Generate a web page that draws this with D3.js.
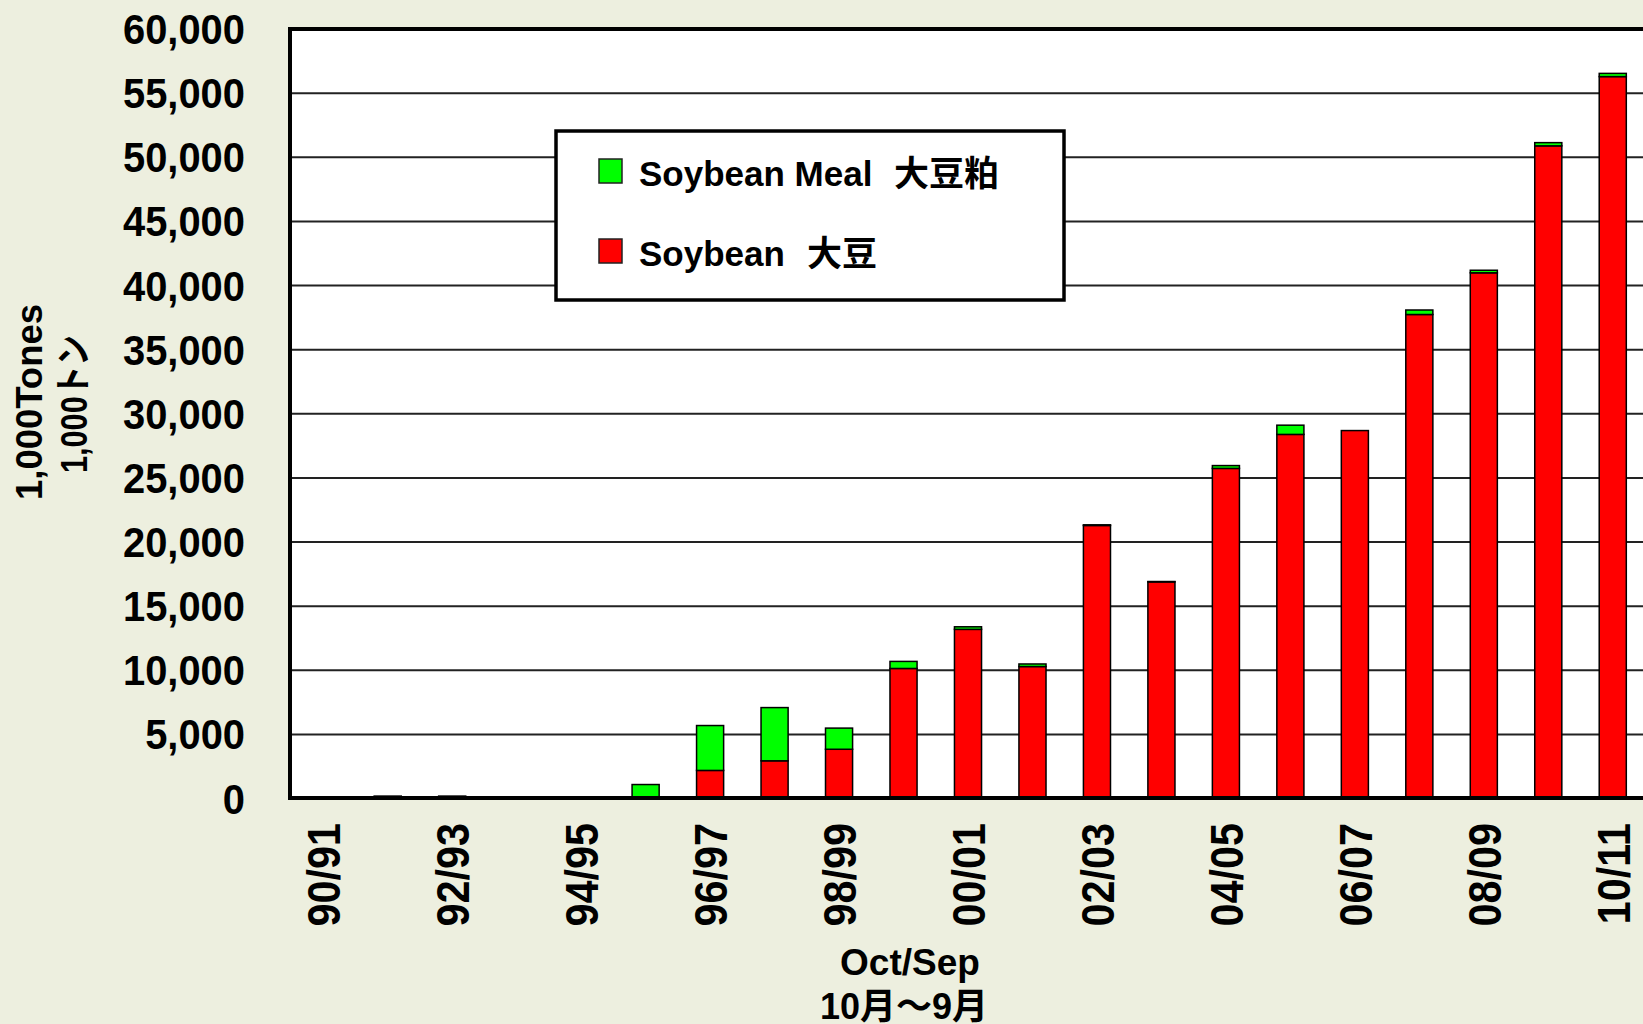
<!DOCTYPE html>
<html>
<head>
<meta charset="utf-8">
<script src="https://cdn.jsdelivr.net/npm/d3@7"></script>
<style>
  html, body { margin: 0; padding: 0; background: #edefdf; }
  svg { display: block; }
  text { font-family: "Liberation Sans", Arial, "Noto Sans CJK JP", sans-serif; font-weight: bold; fill: #000; }
</style>
</head>
<body>
<svg id="chart" width="1643" height="1024"></svg>
<script>
// crop years, Oct/Sep
var seasons = ["90/91","91/92","92/93","93/94","94/95","95/96","96/97","97/98","98/99","99/00",
               "00/01","01/02","02/03","03/04","04/05","05/06","06/07","07/08","08/09","09/10","10/11"];
// 1,000 tonnes
var soybean = [0, 150, 150, 0, 0, 0, 2150, 2900, 3800, 10100,
               13150, 10250, 21250, 16850, 25700, 28350, 28650, 37700, 40950, 50850, 56250];
var soybeanMeal = [0, 0, 0, 0, 0, 1050, 3500, 4150, 1650, 550,
                   200, 200, 50, 30, 220, 720, 0, 350, 200, 250, 250];
var yTicks = d3.range(0, 60001, 5000);
var xLabels = seasons.filter(function(d, i) { return i % 2 == 0; });

var legendItems = [
  {key: "meal", en: "Soybean Meal", ja: "大豆粕", color: "#00ff00"},
  {key: "soy",  en: "Soybean",      ja: "大豆",   color: "#ff0000"}
];

var svg = d3.select("#chart");
var plotL = 290, plotT = 29, plotB = 798, plotR = 1650;

var x = d3.scaleBand()
    .domain(seasons)
    .range([291, 1645])
    .paddingInner(0.58)
    .paddingOuter(0.29);

var y = d3.scaleLinear()
    .domain([0, 60000])
    .range([plotB, 28.5]);

var rows = seasons.map(function(s, i) {
  return {season: s, soy: soybean[i], meal: soybeanMeal[i]};
});
var stacked = d3.stack().keys(["soy", "meal"])(rows);
var colors = {soy: "#ff0000", meal: "#00ff00"};

// plot area
svg.append("rect")
  .attr("x", plotL).attr("y", plotT)
  .attr("width", plotR - plotL).attr("height", plotB - plotT)
  .attr("fill", "#fff");

// y axis + grid
var yAxis = svg.append("g")
  .attr("transform", "translate(" + plotL + ",0)")
  .call(d3.axisLeft(y).tickValues(yTicks).tickSize(-(plotR - plotL)).tickPadding(45)
        .tickFormat(d3.format(",")));
yAxis.select(".domain").remove();
yAxis.selectAll(".tick line").attr("stroke", "#222").attr("stroke-width", 2);
yAxis.selectAll(".tick text")
  .style("font-size", "42px")
  .attr("x", 0).attr("dy", "0.36em")
  .attr("transform", "translate(-45,0) scale(0.95,1)");

// bars
svg.append("g").selectAll("g")
  .data(stacked)
  .join("g")
  .attr("fill", function(d) { return colors[d.key]; })
  .selectAll("rect")
  .data(function(d) { return d; })
  .join("rect")
  .filter(function(d) { return d[1] - d[0] > 0; })
  .attr("x", function(d) { return x(d.data.season); })
  .attr("width", x.bandwidth())
  .attr("y", function(d) { return y(d[1]); })
  .attr("height", function(d) { return y(d[0]) - y(d[1]); })
  .attr("stroke", "#000")
  .attr("stroke-width", 1.5);

// frame (top + left)
svg.append("path")
  .attr("d", "M" + plotL + "," + plotB + "V" + plotT + "H" + plotR)
  .attr("fill", "none").attr("stroke", "#000").attr("stroke-width", 4);

// x axis
var xAxis = svg.append("g")
  .attr("transform", "translate(0," + plotB + ")")
  .call(d3.axisBottom(x).tickValues(xLabels).tickSize(0).tickPadding(0));
xAxis.select(".domain")
  .attr("d", "M" + (plotL - 2) + ",0H" + plotR)
  .attr("stroke", "#000").attr("stroke-width", 4);
xAxis.selectAll(".tick text")
  .style("font-size", "47px")
  .attr("text-anchor", "end")
  .attr("x", 0).attr("y", 0).attr("dy", "0.36em")
  .attr("transform", "translate(0,25) rotate(-90) scale(0.88,1)");

// axis titles
svg.append("text")
  .attr("transform", "translate(42,402) rotate(-90)")
  .attr("text-anchor", "middle")
  .attr("textLength", 196).attr("lengthAdjust", "spacingAndGlyphs")
  .style("font-size", "37px")
  .text("1,000Tones");
svg.append("text")
  .attr("transform", "translate(87,404) rotate(-90)")
  .attr("text-anchor", "middle")
  .attr("textLength", 138).attr("lengthAdjust", "spacingAndGlyphs")
  .style("font-size", "37px")
  .text("1,000トン");

svg.append("text")
  .attr("x", 910).attr("y", 975)
  .attr("text-anchor", "middle")
  .style("font-size", "37px")
  .text("Oct/Sep");
svg.append("text")
  .attr("x", 904).attr("y", 1019)
  .attr("text-anchor", "middle")
  .style("font-size", "36px")
  .text("10月～9月");

// legend
var legend = svg.append("g");
legend.append("rect")
  .attr("x", 556).attr("y", 131)
  .attr("width", 508).attr("height", 169)
  .attr("fill", "#fff").attr("stroke", "#000").attr("stroke-width", 3.5);
var li = legend.selectAll("g.item")
  .data(legendItems)
  .join("g")
  .attr("class", "item")
  .attr("transform", function(d, i) { return "translate(0," + (i * 80) + ")"; });
li.append("rect")
  .attr("x", 599).attr("y", 159)
  .attr("width", 23).attr("height", 24)
  .attr("fill", function(d) { return d.color; })
  .attr("stroke", "#222").attr("stroke-width", 1.5);
var lt = li.append("text")
  .attr("y", 186)
  .style("font-size", "35px");
lt.append("tspan").attr("x", 639).text(function(d) { return d.en; });
lt.append("tspan").attr("x", function(d, i) { return i == 0 ? 894 : 807; }).text(function(d) { return d.ja; });
</script>
</body>
</html>
